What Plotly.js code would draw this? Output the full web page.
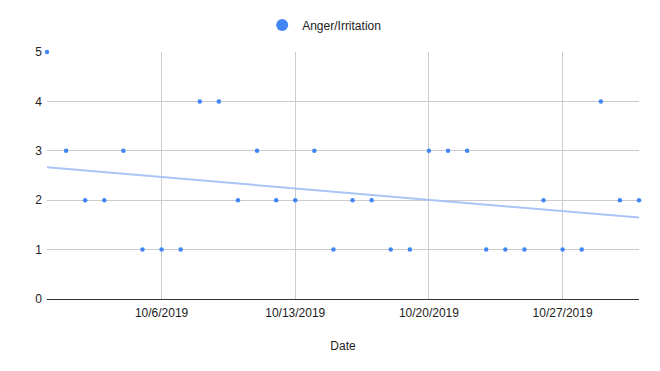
<!DOCTYPE html>
<html>
<head>
<meta charset="utf-8">
<script src="https://cdn.plot.ly/plotly-3.0.1.min.js"></script>
<style>html,body{margin:0;padding:0;background:#fff;}#chart{width:660px;height:371px;}</style>
</head>
<body>
<div id="chart"></div>
<script>
const dates = ['2019-09-30','2019-10-01','2019-10-02','2019-10-03','2019-10-04','2019-10-05','2019-10-06','2019-10-07','2019-10-08','2019-10-09','2019-10-10','2019-10-11','2019-10-12','2019-10-13','2019-10-14','2019-10-15','2019-10-16','2019-10-17','2019-10-18','2019-10-19','2019-10-20','2019-10-21','2019-10-22','2019-10-23','2019-10-24','2019-10-25','2019-10-26','2019-10-27','2019-10-28','2019-10-29','2019-10-30','2019-10-31'];
const anger = [5,3,2,2,3,1,1,1,4,4,2,3,2,2,3,1,2,2,1,1,3,3,3,1,1,1,2,1,1,4,2,2];
const tickDates = ['2019-10-06','2019-10-13','2019-10-20','2019-10-27'];
const tickLabels = ['10/6/2019','10/13/2019','10/20/2019','10/27/2019'];
const seriesName = 'Anger/Irritation';

// least-squares linear trendline computed from the data
const t = dates.map(d => Date.parse(d) / 86400000);
const n = t.length;
const mt = t.reduce((a,b)=>a+b,0)/n;
const my = anger.reduce((a,b)=>a+b,0)/n;
let sxy = 0, sxx = 0;
for (let i=0;i<n;i++){ sxy += (t[i]-mt)*(anger[i]-my); sxx += (t[i]-mt)*(t[i]-mt); }
const slope = sxy/sxx, icpt = my - slope*mt;
const trendX = [dates[0], dates[n-1]];
const trendY = [icpt + slope*t[0], icpt + slope*t[n-1]];

const font = {family:'"Liberation Sans", Arial, sans-serif', size:12, color:'#222'};

Plotly.newPlot('chart', [
  {x: trendX, y: trendY, mode:'lines', line:{color:'#a9c5f7', width:2}, showlegend:false, hoverinfo:'skip'},
  {x: dates, y: anger, mode:'markers', name: seriesName, marker:{color:'#4285f4', size:4.5}, cliponaxis:false}
], {
  width:660, height:371,
  margin:{l:47, r:21, t:51, b:72},
  paper_bgcolor:'#fff', plot_bgcolor:'#fff',
  font: font,
  showlegend:true,
  legend:{orientation:'h', x:0.3635, xanchor:'left', y:1.105, yanchor:'middle', itemsizing:'constant', itemwidth:30, font:font},
  xaxis:{
    type:'date', range:[dates[0], dates[n-1]],
    tickvals: tickDates, ticktext: tickLabels,
    showgrid:true, gridcolor:'#cccccc', gridwidth:1,
    zeroline:false, showline:false, ticks:'',
    ticklabelstandoff:5,
    title:{text:'Date', font:font, standoff:22},
    tickfont: font
  },
  yaxis:{
    range:[0,5], dtick:1, tick0:0,
    showgrid:true, gridcolor:'#cccccc', gridwidth:1,
    zeroline:true, zerolinecolor:'#333333', zerolinewidth:1,
    showline:false, ticks:'', ticklabelstandoff:4, tickfont: font
  }
}, {displayModeBar:false, staticPlot:true});
</script>
</body>
</html>
